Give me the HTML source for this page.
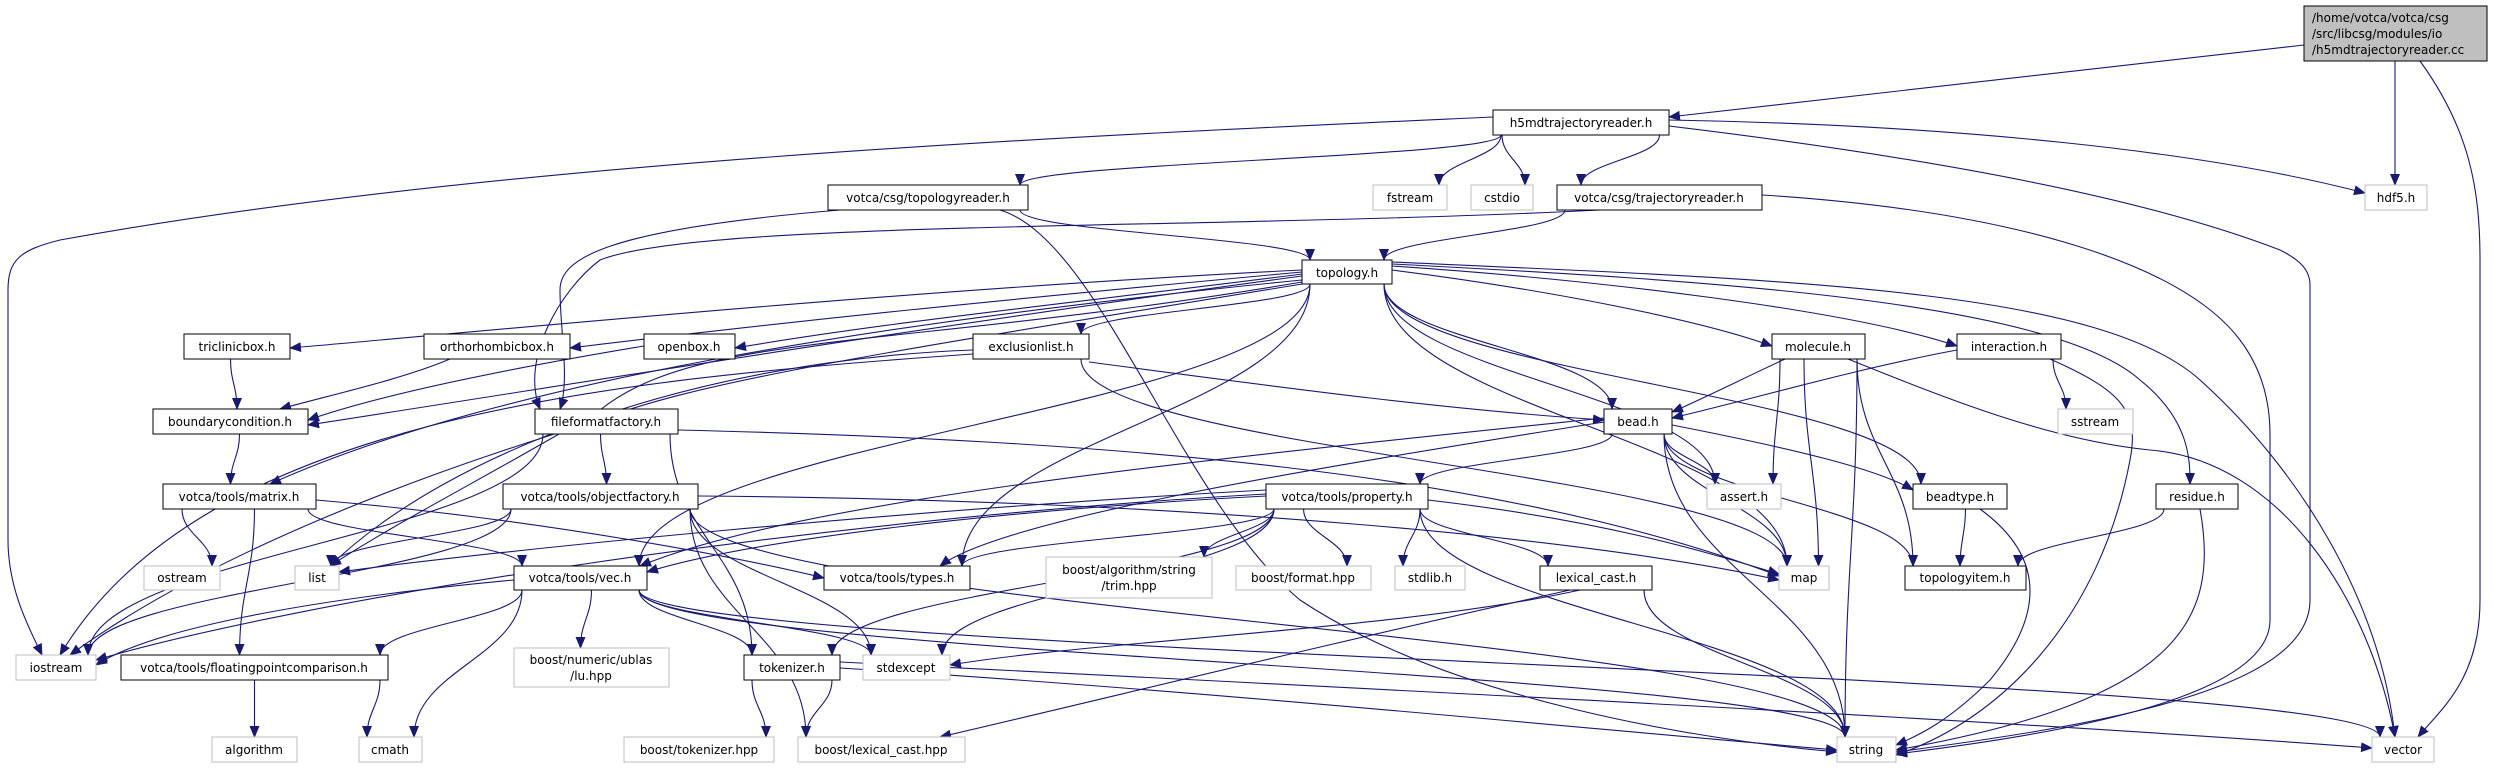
<!DOCTYPE html>
<html><head><meta charset="utf-8">
<style>
html,body{margin:0;padding:0;background:#fff;}
svg{display:block;}
text{font-family:"DejaVu Sans","Liberation Sans",sans-serif;font-size:12px;fill:#000;}
</style></head>
<body>
<svg id="g" width="2494" height="768" viewBox="0 0 2494 768" xmlns="http://www.w3.org/2000/svg">
<defs>
<marker id="ah" markerWidth="12" markerHeight="10" refX="11" refY="5" orient="auto" markerUnits="userSpaceOnUse">
<path d="M0,0 L12,5 L0,10 z" fill="#191970"/>
</marker>
</defs>
<g id="edges" fill="none" stroke="#191970" stroke-width="1.1"></g>
<g id="nodes">
<rect x="2304" y="6" width="183" height="55" fill="#bfbfbf" stroke="#000"/>
<text x="2312" y="22">/home/votca/votca/csg</text>
<text x="2312" y="38">/src/libcsg/modules/io</text>
<text x="2312" y="54">/h5mdtrajectoryreader.cc</text>

<rect x="1493" y="110" width="176" height="25" fill="#fff" stroke="#000"/><text x="1581" y="127" text-anchor="middle">h5mdtrajectoryreader.h</text>
<rect x="828" y="185" width="200" height="25" fill="#fff" stroke="#000"/><text x="928" y="202" text-anchor="middle">votca/csg/topologyreader.h</text>
<rect x="1373" y="185" width="74" height="25" fill="#fff" stroke="#bfbfbf"/><text x="1410" y="202" text-anchor="middle">fstream</text>
<rect x="1471" y="185" width="62" height="25" fill="#fff" stroke="#bfbfbf"/><text x="1502" y="202" text-anchor="middle">cstdio</text>
<rect x="1557" y="185" width="205" height="25" fill="#fff" stroke="#000"/><text x="1659" y="202" text-anchor="middle">votca/csg/trajectoryreader.h</text>
<rect x="2365" y="185" width="62" height="25" fill="#fff" stroke="#bfbfbf"/><text x="2396" y="202" text-anchor="middle">hdf5.h</text>

<rect x="1302" y="260" width="90" height="24" fill="#fff" stroke="#000"/><text x="1347" y="277" text-anchor="middle">topology.h</text>

<rect x="184" y="334" width="106" height="25" fill="#fff" stroke="#000"/><text x="237" y="351" text-anchor="middle">triclinicbox.h</text>
<rect x="424" y="334" width="146" height="25" fill="#fff" stroke="#000"/><text x="497" y="351" text-anchor="middle">orthorhombicbox.h</text>
<rect x="644" y="334" width="91" height="25" fill="#fff" stroke="#000"/><text x="689" y="351" text-anchor="middle">openbox.h</text>
<rect x="973" y="334" width="116" height="25" fill="#fff" stroke="#000"/><text x="1031" y="351" text-anchor="middle">exclusionlist.h</text>
<rect x="1772" y="334" width="93" height="25" fill="#fff" stroke="#000"/><text x="1818" y="351" text-anchor="middle">molecule.h</text>
<rect x="1957" y="334" width="104" height="25" fill="#fff" stroke="#000"/><text x="2009" y="351" text-anchor="middle">interaction.h</text>

<rect x="153" y="409" width="155" height="25" fill="#fff" stroke="#000"/><text x="230" y="426" text-anchor="middle">boundarycondition.h</text>
<rect x="535" y="409" width="143" height="25" fill="#fff" stroke="#000"/><text x="606" y="426" text-anchor="middle">fileformatfactory.h</text>
<rect x="1604" y="409" width="68" height="25" fill="#fff" stroke="#000"/><text x="1638" y="426" text-anchor="middle">bead.h</text>
<rect x="2058" y="409" width="75" height="25" fill="#fff" stroke="#bfbfbf"/><text x="2095" y="426" text-anchor="middle">sstream</text>

<rect x="163" y="484" width="153" height="25" fill="#fff" stroke="#000"/><text x="239" y="501" text-anchor="middle">votca/tools/matrix.h</text>
<rect x="503" y="484" width="195" height="25" fill="#fff" stroke="#000"/><text x="600" y="501" text-anchor="middle">votca/tools/objectfactory.h</text>
<rect x="1266" y="484" width="162" height="25" fill="#fff" stroke="#000"/><text x="1347" y="501" text-anchor="middle">votca/tools/property.h</text>
<rect x="1707" y="484" width="74" height="25" fill="#fff" stroke="#bfbfbf"/><text x="1744" y="501" text-anchor="middle">assert.h</text>
<rect x="1913" y="484" width="94" height="25" fill="#fff" stroke="#000"/><text x="1960" y="501" text-anchor="middle">beadtype.h</text>
<rect x="2156" y="484" width="82" height="25" fill="#fff" stroke="#000"/><text x="2197" y="501" text-anchor="middle">residue.h</text>

<rect x="144" y="566" width="76" height="24" fill="#fff" stroke="#bfbfbf"/><text x="182" y="582" text-anchor="middle">ostream</text>
<rect x="295" y="566" width="44" height="24" fill="#fff" stroke="#bfbfbf"/><text x="317" y="582" text-anchor="middle">list</text>
<rect x="514" y="566" width="133" height="24" fill="#fff" stroke="#000"/><text x="580" y="582" text-anchor="middle">votca/tools/vec.h</text>
<rect x="824" y="566" width="146" height="24" fill="#fff" stroke="#000"/><text x="897" y="582" text-anchor="middle">votca/tools/types.h</text>
<rect x="1046" y="557" width="166" height="41" fill="#fff" stroke="#bfbfbf"/><text x="1129" y="574" text-anchor="middle">boost/algorithm/string</text><text x="1129" y="590" text-anchor="middle">/trim.hpp</text>
<rect x="1236" y="566" width="135" height="24" fill="#fff" stroke="#bfbfbf"/><text x="1303" y="582" text-anchor="middle">boost/format.hpp</text>
<rect x="1395" y="566" width="70" height="24" fill="#fff" stroke="#bfbfbf"/><text x="1430" y="582" text-anchor="middle">stdlib.h</text>
<rect x="1540" y="566" width="112" height="24" fill="#fff" stroke="#000"/><text x="1596" y="582" text-anchor="middle">lexical_cast.h</text>
<rect x="1779" y="566" width="50" height="24" fill="#fff" stroke="#bfbfbf"/><text x="1804" y="582" text-anchor="middle">map</text>
<rect x="1905" y="566" width="121" height="24" fill="#fff" stroke="#000"/><text x="1965" y="582" text-anchor="middle">topologyitem.h</text>

<rect x="16" y="655" width="80" height="25" fill="#fff" stroke="#bfbfbf"/><text x="56" y="672" text-anchor="middle">iostream</text>
<rect x="121" y="655" width="267" height="25" fill="#fff" stroke="#000"/><text x="254" y="672" text-anchor="middle">votca/tools/floatingpointcomparison.h</text>
<rect x="514" y="648" width="155" height="39" fill="#fff" stroke="#bfbfbf"/><text x="591" y="664" text-anchor="middle">boost/numeric/ublas</text><text x="591" y="680" text-anchor="middle">/lu.hpp</text>
<rect x="744" y="655" width="96" height="25" fill="#fff" stroke="#000"/><text x="792" y="672" text-anchor="middle">tokenizer.h</text>
<rect x="863" y="655" width="87" height="25" fill="#fff" stroke="#bfbfbf"/><text x="906" y="672" text-anchor="middle">stdexcept</text>

<rect x="212" y="737" width="85" height="25" fill="#fff" stroke="#bfbfbf"/><text x="254" y="754" text-anchor="middle">algorithm</text>
<rect x="359" y="737" width="63" height="25" fill="#fff" stroke="#bfbfbf"/><text x="390" y="754" text-anchor="middle">cmath</text>
<rect x="624" y="737" width="150" height="25" fill="#fff" stroke="#bfbfbf"/><text x="699" y="754" text-anchor="middle">boost/tokenizer.hpp</text>
<rect x="798" y="737" width="167" height="25" fill="#fff" stroke="#bfbfbf"/><text x="881" y="754" text-anchor="middle">boost/lexical_cast.hpp</text>
<rect x="1837" y="737" width="59" height="25" fill="#fff" stroke="#bfbfbf"/><text x="1866" y="754" text-anchor="middle">string</text>
<rect x="2372" y="737" width="62" height="25" fill="#fff" stroke="#bfbfbf"/><text x="2403" y="754" text-anchor="middle">vector</text>
</g>
</svg>
<script>
var N={
root:[2304,2487,6,61],h5:[1493,1669,110,135],tr:[828,1028,185,210],fs:[1373,1447,185,210],cs:[1471,1533,185,210],jr:[1557,1762,185,210],hdf:[2365,2427,185,210],
top:[1302,1392,260,284],tri:[184,290,334,359],ort:[424,570,334,359],opn:[644,735,334,359],exc:[973,1089,334,359],mol:[1772,1865,334,359],int:[1957,2061,334,359],
bc:[153,308,409,434],ff:[535,678,409,434],bead:[1604,1672,409,434],ss:[2058,2133,409,434],
mat:[163,316,484,509],of:[503,698,484,509],prop:[1266,1428,484,509],as:[1707,1781,484,509],bt:[1913,2007,484,509],res:[2156,2238,484,509],
os:[144,220,566,590],list:[295,339,566,590],vec:[514,647,566,590],typ:[824,970,566,590],trim:[1046,1212,557,598],fmt:[1236,1371,566,590],stdl:[1395,1465,566,590],lc:[1540,1652,566,590],map:[1779,1829,566,590],ti:[1905,2026,566,590],
io:[16,96,655,680],fpc:[121,388,655,680],lu:[514,669,648,687],tok:[744,840,655,680],se:[863,950,655,680],
alg:[212,297,737,762],cm:[359,422,737,762],bth:[624,774,737,762],blc:[798,965,737,762],str:[1837,1896,737,762],vecs:[2372,2434,737,762]};
var E=[
["root","h5","M2304,45 L1669,117"],["root","hdf","M2395,61 L2395,185"],["root","vecs","M2420,61 C2470,130 2480,190 2480,260 L2480,600 C2480,680 2440,710 2418,737"],
["h5","io","M1493,117 C1100,135 500,160 60,240 C20,250 8,260 8,290 L8,540 C8,590 30,630 42,655"],
["h5","tr"],["h5","fs"],["h5","cs"],["h5","jr"],["h5","hdf","M1669,120 C1950,125 2200,150 2365,193"],
["h5","str","M1669,126 C1950,160 2150,200 2280,250 C2300,260 2310,270 2310,285 L2310,600 C2310,690 2100,725 1896,752"],
["tr","top"],["tr","ff","M840,210 C600,230 560,260 560,290 C560,330 570,380 560,409"],
["tr","str","M1000,210 C1100,240 1180,500 1300,600 C1450,700 1700,740 1837,752"],
["jr","top"],["jr","ff","M1600,210 C1200,230 700,220 600,260 C560,290 520,360 540,409"],
["jr","str","M1762,195 C2000,210 2180,260 2240,340 C2270,380 2270,420 2270,440 L2270,620 C2270,700 2050,735 1896,754"],
["top","tri","M1302,270 C900,290 500,330 290,348"],["top","ort","M1302,272 C1000,300 800,320 570,348"],["top","opn","M1302,274 C1100,300 900,320 735,348"],
["top","bc","M1302,276 C900,330 600,380 308,425"],["top","exc"],["top","mat","M1302,280 C900,320 500,380 270,484"],["top","list","M1302,282 C900,350 700,330 600,410 C500,470 400,520 330,566"],
["top","vec"],["top","typ"],["top","map"],["top","bead"],["top","mol","M1392,270 C1550,290 1700,320 1772,346"],["top","int","M1392,266 C1600,280 1850,310 1957,346"],
["top","bt"],["top","as"],["top","res","M1392,264 C1700,280 2050,300 2140,380 C2190,420 2190,460 2190,484"],
["top","vecs","M1392,262 C1800,280 2100,290 2200,380 C2300,470 2380,600 2395,737"],["top","io","M1302,284 C900,350 700,380 600,420 C400,480 200,560 70,655"],
["tri","bc"],["ort","bc","M450,359 C400,380 330,395 280,409"],["opn","bc","M644,346 C500,370 380,395 308,420"],["bc","mat"],
["exc","list","M973,350 C700,360 450,450 330,566"],["exc","bead","M1089,362 C1300,390 1450,410 1604,420"],["exc","map"],["exc","io","M973,354 C600,380 200,420 60,655"],
["ff","of"],["ff","tok"],["ff","io"],["ff","map","M678,430 C1100,440 1500,470 1779,576"],
["mat","os"],["mat","vec"],["mat","fpc"],["mat","typ","M316,500 C550,520 750,560 824,578"],
["of","list"],["of","io"],["of","map","M698,496 C1200,500 1600,540 1779,580"],["of","se"],["of","str"],["of","blc"],
["vec","io","M514,580 C300,600 150,630 96,665"],["vec","fpc"],["vec","cm"],["vec","lu"],["vec","tok"],["vec","se"],["vec","str"],["vec","vecs"],
["fpc","alg"],["fpc","cm"],["tok","bth"],["tok","blc"],["tok","str","M840,668 C1200,690 1600,730 1837,750"],["tok","vecs","M840,662 C1400,690 2000,720 2372,748"],
["bead","prop"],["bead","vec","M1604,418 C1200,460 800,500 640,566"],["bead","typ","M1604,422 C1300,470 1000,520 940,566"],["bead","as"],["bead","bt","M1672,425 C1800,450 1880,470 1913,490"],["bead","ti"],["bead","map"],["bead","str"],
["prop","list","M1266,490 C900,510 500,550 339,572"],["prop","io","M1266,494 C800,520 300,600 96,660"],["prop","vec","M1266,496 C1000,510 750,540 647,572"],["prop","typ"],["prop","trim"],["prop","fmt"],["prop","stdl"],["prop","lc"],["prop","tok"],["prop","se"],["prop","map","M1428,500 C1600,520 1700,550 1779,574"],["prop","str"],
["lc","se","M1580,590 C1400,630 1100,640 950,665"],["lc","blc","M1570,590 C1300,650 1100,700 940,737"],["lc","str"],
["mol","bead","M1785,359 C1740,380 1700,400 1672,412"],["mol","as"],["mol","map"],["mol","ti"],["mol","str"],["mol","vecs","M1848,359 C1950,400 2050,440 2150,450 C2280,460 2370,600 2395,737"],
["int","bead","M1957,350 C1850,370 1750,400 1672,418"],["int","ss"],["int","str","M2050,359 C2120,390 2140,410 2130,460 C2100,620 2000,720 1896,755"],
["bt","ti"],["bt","str","M1980,509 C2050,560 2040,620 1990,680 C1950,720 1920,735 1896,745"],["res","ti"],["res","str","M2200,509 C2220,620 2180,700 1896,750"]];
function cl(v,a,b){return Math.max(a,Math.min(b,v));}
var g=document.getElementById("edges"),h="";
E.forEach(function(e){var d=e[2];
if(!d){var s=N[e[0]],t=N[e[1]];
var scx=(s[0]+s[1])/2,tcx=(t[0]+t[1])/2;
if(t[2]>s[3]+2){
 var sx=cl(tcx,s[0]+8,s[1]-8),tx=cl(scx,t[0]+8,t[1]-8),sy=s[3],ty=t[2],k=(ty-sy)*0.45;
 d="M"+sx+","+sy+" C"+sx+","+(sy+k)+" "+tx+","+(ty-k)+" "+tx+","+ty;
}else{
 var sy=(s[2]+s[3])/2,ty=(t[2]+t[3])/2,sx,tx;
 if(tcx<scx){sx=s[0];tx=t[1];}else{sx=s[1];tx=t[0];}
 var k=(tx-sx)*0.4;
 d="M"+sx+","+sy+" C"+(sx+k)+","+sy+" "+(tx-k)+","+ty+" "+tx+","+ty;
}}
h+='<path d="'+d+'" marker-end="url(#ah)"/>';});
g.innerHTML=h;
</script>
</body></html>
